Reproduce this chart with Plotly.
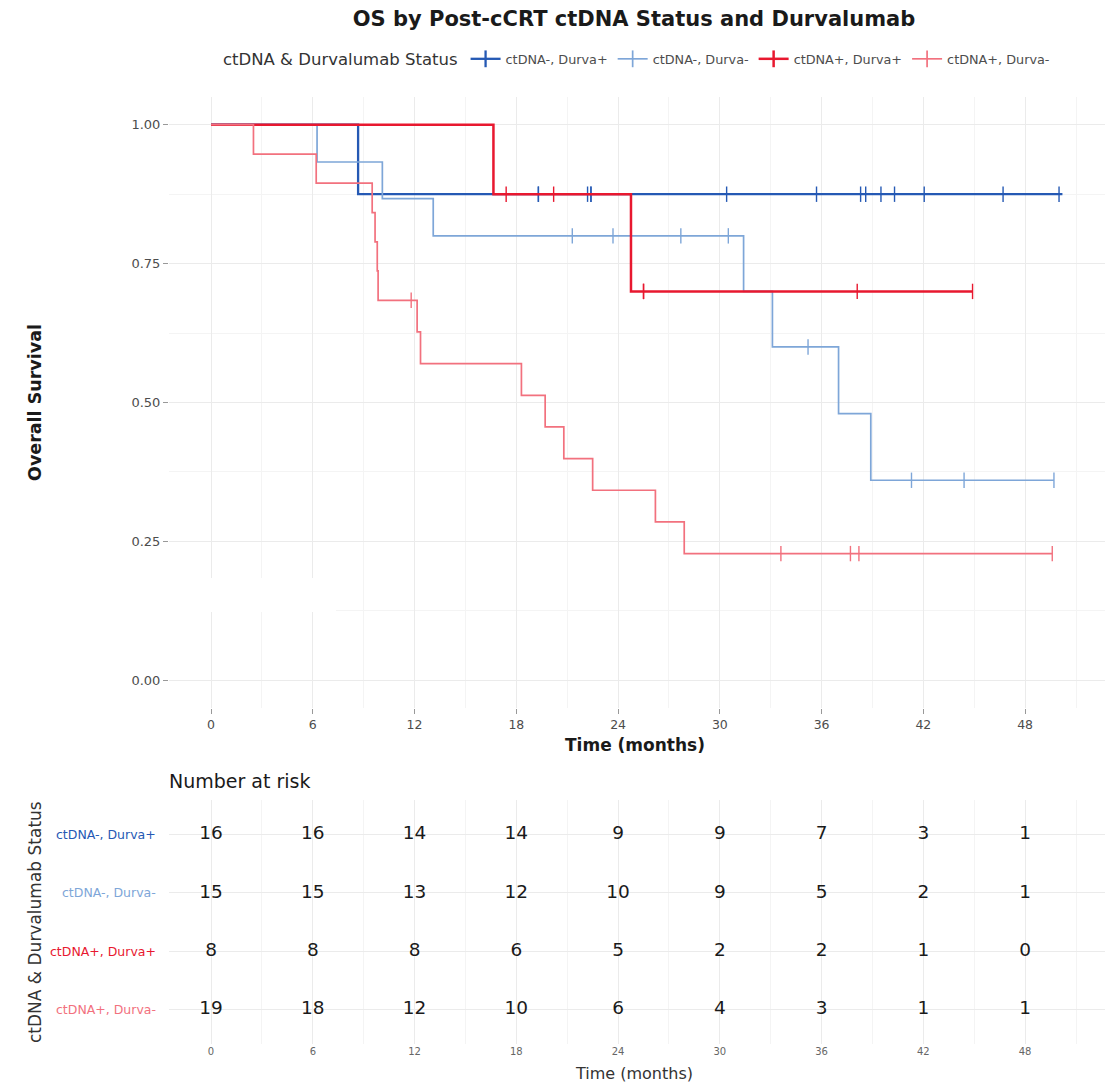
import plotly.graph_objects as go

# ---- Kaplan-Meier step data (time in months, survival probability) ----
groups = ["ctDNA-, Durva+", "ctDNA-, Durva-", "ctDNA+, Durva+", "ctDNA+, Durva-"]
colors = ["#2559b4", "#7ea6d8", "#e8182f", "#f2717e"]
widths = [2.3, 1.7, 2.5, 1.7]

# ctDNA-, Durva+
t_neg_pos = [0, 8.67, 50.2]
s_neg_pos = [1.0, 0.875, 0.875]
c_neg_pos = [19.3, 19.3, 22.2, 22.4, 22.4, 30.4, 35.7, 38.3, 38.6, 39.5, 40.3, 42.05, 46.7, 50.0]
cs_neg_pos = [0.875] * 14

# ctDNA-, Durva-
t_neg_neg = [0, 6.25, 10.1, 13.1, 31.4, 33.1, 37.0, 38.9, 49.7]
s_neg_neg = [1.0, 0.933, 0.867, 0.80, 0.70, 0.60, 0.48, 0.36, 0.36]
c_neg_neg = [21.3, 23.7, 27.7, 30.5, 35.2, 41.3, 44.4, 49.7]
cs_neg_neg = [0.80, 0.80, 0.80, 0.80, 0.60, 0.36, 0.36, 0.36]

# ctDNA+, Durva+
t_pos_pos = [0, 16.65, 24.76, 44.9]
s_pos_pos = [1.0, 0.875, 0.70, 0.70]
c_pos_pos = [17.4, 20.2, 25.5, 25.5, 38.1, 44.9]
cs_pos_pos = [0.875, 0.875, 0.70, 0.70, 0.70, 0.70]

# ctDNA+, Durva-
t_pos_neg = [0, 2.5, 6.2, 9.5, 9.67, 9.8, 9.85, 12.15, 12.35, 18.3, 19.7, 20.8, 22.5, 26.2, 27.9, 49.6]
s_pos_neg = [1.0, 0.947, 0.895, 0.842, 0.789, 0.737, 0.684, 0.627, 0.570,
             0.513, 0.456, 0.399, 0.342, 0.285, 0.228, 0.228]
c_pos_neg = [11.8, 33.6, 37.7, 38.2, 49.6]
cs_pos_neg = [0.684, 0.228, 0.228, 0.228, 0.228]

step_t = [t_neg_pos, t_neg_neg, t_pos_pos, t_pos_neg]
step_s = [s_neg_pos, s_neg_neg, s_pos_pos, s_pos_neg]
cens_t = [c_neg_pos, c_neg_neg, c_pos_pos, c_pos_neg]
cens_s = [cs_neg_pos, cs_neg_neg, cs_pos_pos, cs_pos_neg]

# ---- Number-at-risk table ----
risk_times = [0, 6, 12, 18, 24, 30, 36, 42, 48]
risk_neg_pos = [16, 16, 14, 14, 9, 9, 7, 3, 1]
risk_neg_neg = [15, 15, 13, 12, 10, 9, 5, 2, 1]
risk_pos_pos = [8, 8, 8, 6, 5, 2, 2, 1, 0]
risk_pos_neg = [19, 18, 12, 10, 6, 4, 3, 1, 1]
risk_rows = [risk_neg_pos, risk_neg_neg, risk_pos_pos, risk_pos_neg]

x_ticks = [0, 6, 12, 18, 24, 30, 36, 42, 48]
y_ticks = [0.0, 0.25, 0.5, 0.75, 1.0]
y_ticklabels = ["0.00", "0.25", "0.50", "0.75", "1.00"]

W, H = 1112, 1083
FONT = "DejaVu Sans"
GRID = "#ebebeb"
MINOR = "#f4f4f4"
TICKCOL = "#4d4d4d"

fig = go.Figure()

for i, g in enumerate(groups):
    fig.add_trace(go.Scatter(
        x=step_t[i], y=step_s[i], mode="lines", line_shape="hv",
        line=dict(color=colors[i], width=widths[i]),
        legendgroup=g, showlegend=False, hoverinfo="skip",
        xaxis="x", yaxis="y"))
    fig.add_trace(go.Scatter(
        x=cens_t[i], y=cens_s[i], mode="markers",
        marker=dict(symbol="line-ns", size=11, line=dict(color=colors[i], width=1.4)),
        legendgroup=g, showlegend=False, hoverinfo="skip",
        xaxis="x", yaxis="y"))
    # legend key: line with a "+" censor mark
    fig.add_trace(go.Scatter(
        x=[None], y=[None], mode="lines+markers", name=g,
        line=dict(color=colors[i], width=widths[i]),
        marker=dict(symbol="line-ns", size=12, line=dict(color=colors[i], width=widths[i])),
        legendgroup=g, xaxis="x", yaxis="y"))

# risk table numbers
for r, vals in enumerate(risk_rows):
    fig.add_trace(go.Scatter(
        x=risk_times, y=[r + 1] * len(risk_times), mode="text",
        text=[str(v) for v in vals],
        textfont=dict(family=FONT, size=18.5, color="#1a1a1a"),
        showlegend=False, hoverinfo="skip", xaxis="x2", yaxis="y2"))

x_dom = [169 / W, 1105 / W]
x_rng = [-2.48, 52.71]

fig.update_layout(
    width=W, height=H,
    margin=dict(l=0, r=0, t=0, b=0),
    paper_bgcolor="white", plot_bgcolor="white",
    font=dict(family=FONT, color="#333333"),
    title=dict(text="<b>OS by Post-cCRT ctDNA Status and Durvalumab</b>",
               x=634 / W, xanchor="center", y=1 - 19 / H, yanchor="middle",
               font=dict(family=FONT, size=21, color="#1a1a1a")),
    showlegend=True,
    legend=dict(orientation="h", x=638 / W, xanchor="center", y=1 - 60 / H, yanchor="middle",
                title=dict(text="ctDNA & Durvalumab Status", side="left",
                           font=dict(family=FONT, size=16.5, color="#333333")),
                font=dict(family=FONT, size=12.8, color="#4d4d4d"),
                itemwidth=30, tracegroupgap=0, bgcolor="rgba(0,0,0,0)"),
    xaxis=dict(domain=x_dom, range=x_rng, anchor="y",
               tickmode="array", tickvals=x_ticks, ticktext=[str(t) for t in x_ticks],
               showgrid=True, gridcolor=GRID, gridwidth=1,
               minor=dict(dtick=3, tick0=0, showgrid=True, gridcolor=MINOR, gridwidth=1),
               ticks="outside", ticklen=5, tickcolor="#999999",
               tickfont=dict(family=FONT, size=12.5, color=TICKCOL),
               zeroline=False, showline=False, automargin=False),
    yaxis=dict(domain=[1 - 708 / H, 1 - 97 / H], range=[-0.05, 1.05], anchor="x",
               tickmode="array", tickvals=y_ticks, ticktext=y_ticklabels,
               showgrid=True, gridcolor=GRID, gridwidth=1,
               minor=dict(dtick=0.125, tick0=0, showgrid=True, gridcolor=MINOR, gridwidth=1),
               ticks="outside", ticklen=5, tickcolor="#999999",
               tickfont=dict(family=FONT, size=13, color=TICKCOL),
               zeroline=False, showline=False, automargin=False),
    xaxis2=dict(domain=x_dom, range=x_rng, anchor="y2",
                tickmode="array", tickvals=x_ticks, ticktext=[str(t) for t in x_ticks],
                showgrid=True, gridcolor=GRID, gridwidth=1,
                minor=dict(dtick=3, tick0=0, showgrid=True, gridcolor=MINOR, gridwidth=1),
                ticks="", tickfont=dict(family=FONT, size=10, color="#666666"),
                zeroline=False, showline=False, automargin=False),
    yaxis2=dict(domain=[1 - 1044 / H, 1 - 800 / H], range=[4.6, 0.4], anchor="x2",
                tickmode="array", tickvals=[1, 2, 3, 4], showticklabels=False,
                showgrid=True, gridcolor=GRID, gridwidth=1,
                zeroline=False, showline=False, automargin=False),
)

# blank panel inside the survival plot area
fig.add_shape(type="rect", xref="paper", yref="paper",
              x0=163 / W, x1=336 / W, y0=1 - 612 / H, y1=1 - 578 / H,
              fillcolor="white", line=dict(width=0), layer="above")

ann = []
ann.append(dict(text="<b>Time (months)</b>", x=635 / W, y=1 - 745 / H, xref="paper", yref="paper",
                showarrow=False, xanchor="center", yanchor="middle",
                font=dict(family=FONT, size=17, color="#1a1a1a")))
ann.append(dict(text="<b>Overall Survival</b>", x=35 / W, y=1 - 403 / H, xref="paper", yref="paper",
                showarrow=False, textangle=-90, xanchor="center", yanchor="middle",
                font=dict(family=FONT, size=17.5, color="#1a1a1a")))
ann.append(dict(text="Number at risk", x=167 / W, y=1 - 781 / H, xref="paper", yref="paper",
                showarrow=False, xanchor="left", yanchor="middle",
                font=dict(family=FONT, size=19, color="#1a1a1a")))
ann.append(dict(text="Time (months)", x=634 / W, y=1 - 1073 / H, xref="paper", yref="paper",
                showarrow=False, xanchor="center", yanchor="middle",
                font=dict(family=FONT, size=16, color="#333333")))
ann.append(dict(text="ctDNA & Durvalumab Status", x=35 / W, y=1 - 922 / H, xref="paper", yref="paper",
                showarrow=False, textangle=-90, xanchor="center", yanchor="middle",
                font=dict(family=FONT, size=17, color="#333333")))
for r, g in enumerate(groups):
    ann.append(dict(text=g, x=158 / W, y=r + 1, xref="paper", yref="y2",
                    showarrow=False, xanchor="right", yanchor="middle",
                    font=dict(family=FONT, size=12.5, color=colors[r])))
fig.update_layout(annotations=ann)

fig.write_html("out.html")
